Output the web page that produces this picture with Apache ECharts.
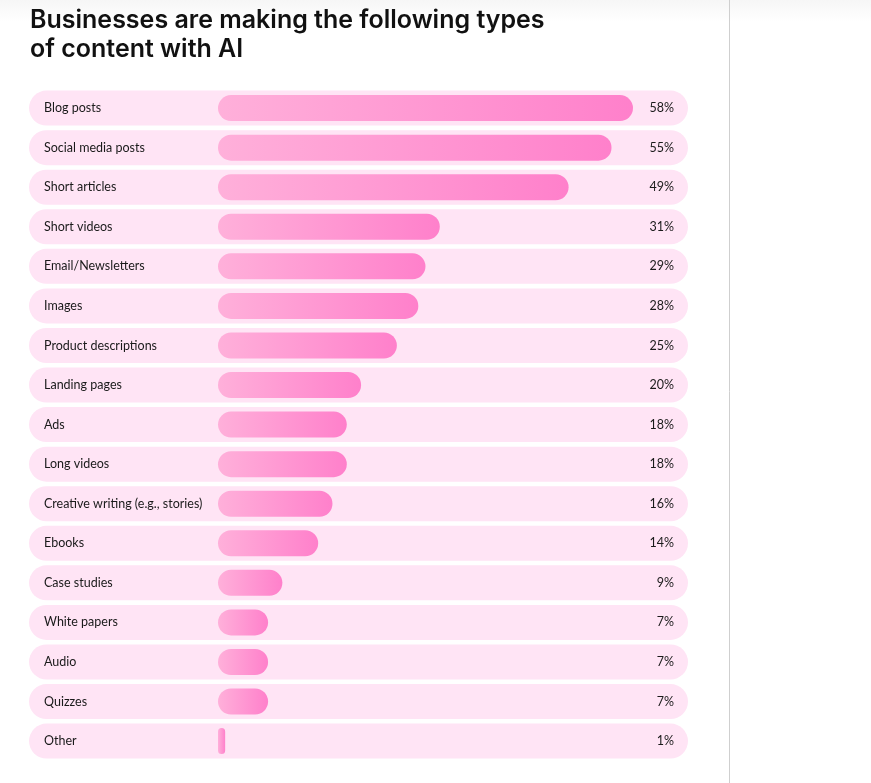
<!DOCTYPE html>
<html>
<head>
<meta charset="utf-8">
<style>
  html, body { margin: 0; padding: 0; background: #ffffff; }
  body { width: 871px; height: 783px; overflow: hidden;
    background: linear-gradient(to bottom, #f6f6f6 0px, #ffffff 22px, #ffffff 100%); }
  #chart { width: 871px; height: 783px; }
</style>
<script src="https://cdn.jsdelivr.net/npm/echarts@6/dist/echarts.min.js"></script>
</head>
<body>
<div id="chart"></div>
<script>
const titleText = 'Businesses are making the following types\nof content with AI';
const categories = [
  'Blog posts', 'Social media posts', 'Short articles', 'Short videos',
  'Email/Newsletters', 'Images', 'Product descriptions', 'Landing pages',
  'Ads', 'Long videos', 'Creative writing (e.g., stories)', 'Ebooks',
  'Case studies', 'White papers', 'Audio', 'Quizzes', 'Other'
];
const values = [58, 55, 49, 31, 29, 28, 25, 20, 18, 18, 16, 14, 9, 7, 7, 7, 1];
const trackValues = categories.map(() => 1);

const FONT = 'Inter, "Noto Sans", sans-serif';
const LABEL_FONT = 'Lato, Inter, sans-serif';
const chart = echarts.init(document.getElementById('chart'), null, { renderer: 'canvas' });

const gridTop = 88.3, gridHeight = 672.6;

chart.setOption({
  animation: false,
  backgroundColor: 'transparent',
  title: {
    text: titleText,
    left: 25, top: 1,
    textStyle: { fontFamily: FONT, fontSize: 25, fontWeight: 600, color: '#111111', lineHeight: 29 }
  },
  graphic: [{
    type: 'line', shape: { x1: 729.5, y1: 0, x2: 729.5, y2: 783 },
    style: { stroke: '#cfcfcf', lineWidth: 1 }, silent: true
  }],
  grid: [
    { left: 29, width: 659, top: gridTop, height: gridHeight },
    { left: 218, width: 7.155 * 60, top: gridTop, height: gridHeight }
  ],
  xAxis: [
    { gridIndex: 0, type: 'value', min: 0, max: 1, show: false },
    { gridIndex: 1, type: 'value', min: 0, max: 60, show: false }
  ],
  yAxis: [
    { gridIndex: 0, type: 'category', data: categories, inverse: true, show: false },
    { gridIndex: 1, type: 'category', data: categories, inverse: true, show: false }
  ],
  series: [
    {
      type: 'bar', xAxisIndex: 0, yAxisIndex: 0,
      data: trackValues, barWidth: 35,
      itemStyle: { color: '#ffe4f5', borderRadius: 17.5 },
      silent: true
    },
    {
      type: 'bar', xAxisIndex: 0, yAxisIndex: 0,
      data: trackValues, barWidth: 35, barGap: '-100%',
      itemStyle: { color: 'rgba(0,0,0,0)' },
      label: {
        show: true, position: 'insideLeft', distance: 15,
        formatter: (p) => p.name,
        fontFamily: LABEL_FONT, fontSize: 12.5, color: '#1a1a1a'
      },
      silent: true
    },
    {
      type: 'bar', xAxisIndex: 0, yAxisIndex: 0,
      data: trackValues, barWidth: 35, barGap: '-100%',
      itemStyle: { color: 'rgba(0,0,0,0)' },
      label: {
        show: true, position: 'insideRight', distance: 14,
        formatter: (p) => values[p.dataIndex] + '%',
        fontFamily: LABEL_FONT, fontSize: 12.5, color: '#1a1a1a'
      },
      silent: true
    },
    {
      type: 'bar', xAxisIndex: 1, yAxisIndex: 1,
      data: values, barWidth: 26,
      itemStyle: {
        borderRadius: 13,
        color: new echarts.graphic.LinearGradient(0, 0, 1, 0, [
          { offset: 0, color: '#ffb0da' },
          { offset: 1, color: '#ff80cb' }
        ])
      },
      silent: true
    }
  ]
});
</script>
</body>
</html>
